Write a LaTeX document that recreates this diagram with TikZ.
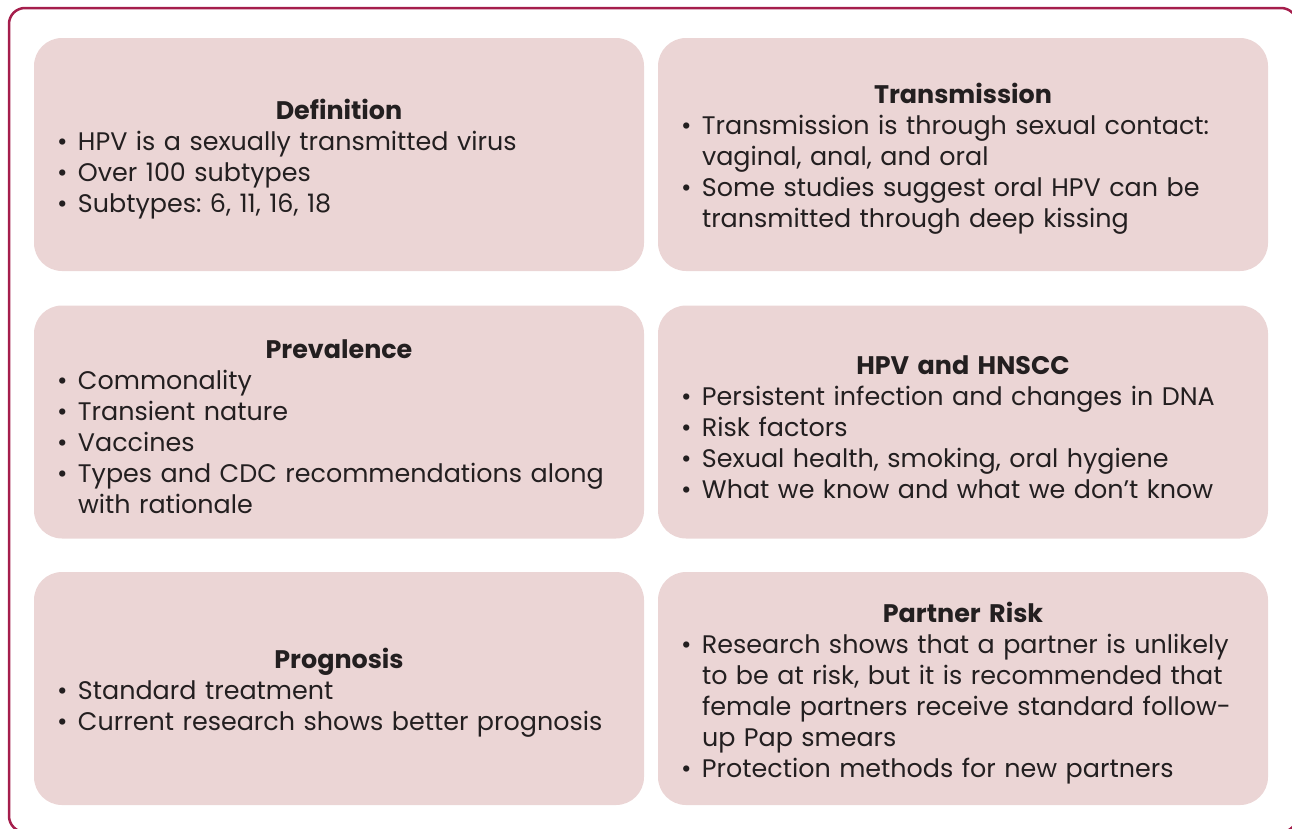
\documentclass[tikz,border=0pt]{standalone}
\usepackage{fontspec}
\setmainfont{Poppins}
\definecolor{framered}{HTML}{A51E4C}
\definecolor{boxfill}{HTML}{EBD5D5}
\definecolor{ink}{HTML}{231F20}
\newcommand\itm{\par\hangindent=21pt\hangafter=1\noindent\makebox[21pt][l]{\textbullet}}
\newcommand\hd[1]{\noindent\rule{0pt}{29pt}\makebox[\linewidth][c]{\bfseries #1}}
\tikzset{
  topic/.style={rounded corners=28pt, fill=boxfill, minimum width=610pt, minimum height=233pt,
    text width=564pt, inner xsep=23pt, align=left, text=ink,
    font=\frenchspacing\fontsize{25.4}{31}\selectfont},
}
\begin{document}
\begin{tikzpicture}[x=1pt,y=-1pt]
\useasboundingbox (0,0) rectangle (1292,828);
\begin{scope}
\clip (0,0) rectangle (1292,828);
\draw[framered, line width=2.5pt, rounded corners=16pt] (9,8) rectangle (1297,832);
\end{scope}
\node[topic] (definition) at (339,154.5) {\hd{Definition}
  \itm HPV is a sexually transmitted virus
  \itm Over 100 subtypes
  \itm Subtypes: 6, 11, 16, 18\par};
\node[topic] (transmission) at (963,154.5) {\hd{Transmission}
  \itm Transmission is through sexual contact:\newline vaginal, anal, and oral
  \itm Some studies suggest oral HPV can be\newline transmitted through deep kissing\par};
\node[topic] (prevalence) at (339,422) {\hd{Prevalence}
  \itm Commonality
  \itm Transient nature
  \itm Vaccines
  \itm Types and CDC recommendations along\newline with rationale\par};
\node[topic] (hnscc) at (963,422) {\hd{HPV and HNSCC}
  \itm Persistent infection and changes in DNA
  \itm Risk factors
  \itm Sexual health, smoking, oral hygiene
  \itm What we know and what we don’t know\par};
\node[topic] (prognosis) at (339,688.5) {\hd{Prognosis}
  \itm Standard treatment
  \itm Current research shows better prognosis\par};
\node[topic] (partner) at (963,688.5) {\hd{Partner Risk}
  \itm Research shows that a partner is unlikely\newline to be at risk, but it is recommended that\newline female partners receive standard follow-\newline up Pap smears
  \itm Protection methods for new partners\par};
\end{tikzpicture}
\end{document}
